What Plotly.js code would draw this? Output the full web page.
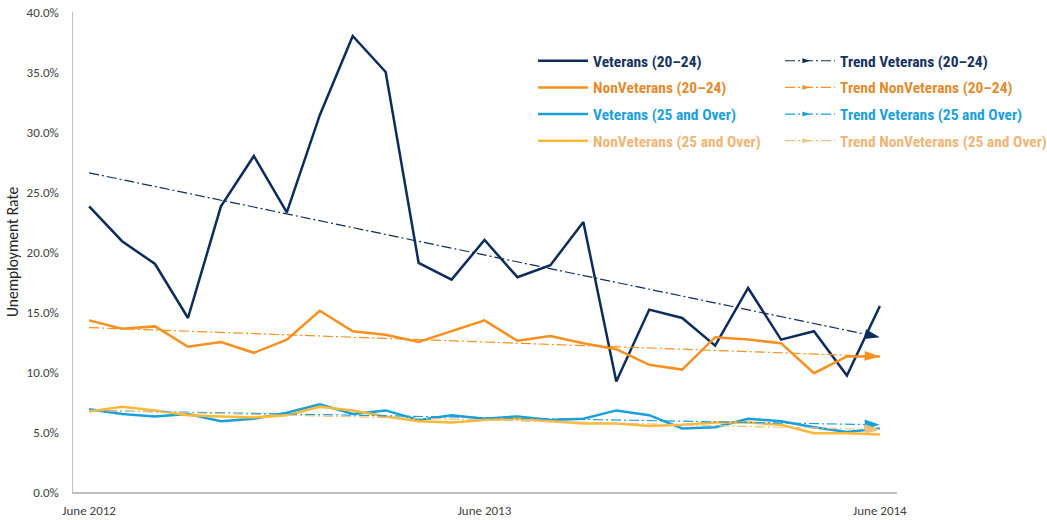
<!DOCTYPE html>
<html>
<head>
<meta charset="utf-8">
<script src="https://cdn.plot.ly/plotly-3.0.1.min.js"></script>
<style>html,body{margin:0;padding:0;background:#fff;}#chart{width:1047px;height:520px;}</style>
</head>
<body>
<div id="chart"></div>
<script>
const months = ["June 2012","July 2012","Aug 2012","Sep 2012","Oct 2012","Nov 2012","Dec 2012",
  "Jan 2013","Feb 2013","Mar 2013","Apr 2013","May 2013","June 2013","July 2013","Aug 2013",
  "Sep 2013","Oct 2013","Nov 2013","Dec 2013","Jan 2014","Feb 2014","Mar 2014","Apr 2014",
  "May 2014","June 2014"];
const xTickLabels = ["June 2012","June 2013","June 2014"];
const yTickVals = [0,5,10,15,20,25,30,35,40];
const yTickLabels = ["0.0%","5.0%","10.0%","15.0%","20.0%","25.0%","30.0%","35.0%","40.0%"];

const vet2024 = [23.8,20.9,19.0,14.5,23.8,28.0,23.3,31.4,38.0,35.0,19.1,17.7,21.0,17.9,18.9,22.5,9.2,15.2,14.5,12.2,17.0,12.7,13.4,9.7,15.5];
const nonVet2024 = [14.3,13.6,13.8,12.1,12.5,11.6,12.7,15.1,13.4,13.1,12.5,13.4,14.3,12.6,13.0,12.4,11.9,10.6,10.2,12.9,12.7,12.4,9.9,11.3,11.3];
const vet25 = [6.9,6.5,6.3,6.5,5.9,6.1,6.6,7.3,6.5,6.8,6.0,6.4,6.1,6.3,6.0,6.1,6.8,6.4,5.3,5.4,6.1,5.9,5.4,5.0,5.3];
const nonVet25 = [6.7,7.1,6.8,6.4,6.3,6.2,6.4,7.1,6.8,6.3,5.9,5.8,6.0,6.1,5.9,5.7,5.7,5.5,5.6,5.8,5.8,5.6,4.9,4.9,4.8];

const trendX = ["June 2012","June 2014"];
const trendVet2024 = [26.6,12.9];
const trendNonVet2024 = [13.7,11.3];
const trendVet25 = [6.8,5.6];
const trendNonVet25 = [6.8,5.2];

const C = {
  navy:'#0C2D5B', navyT:'#16325E',
  orange:'#F7901E', orangeT:'#E38B2F',
  blue:'#1A9FDB', blueT:'#1B9FDD',
  gold:'#FDB934', goldTrend:'#F3BE7C', goldT:'#EFB577'
};

function span(col, txt){ return '<span style="color:'+col+'">'+txt+'</span>'; }

function main(y, col, txtCol, name, rank){
  return {x: months, y: y, type:'scatter', mode:'lines', name: span(txtCol, name),
    line:{color: col, width:2.5}, legend:'legend', legendgroup:'m'+rank, legendrank: rank, hoverinfo:'y'};
}
function trend(y, col, txtCol, name, rank){
  return {x: trendX, y: y, type:'scatter', mode:'lines+markers', name: span(txtCol, name),
    line:{color: col, width:1.2, dash:'10px,3px,2px,3px'},
    marker:{symbol:'arrow', angleref:'previous', size:[0,16], color: col, opacity:1, line:{width:0}},
    legend:'legend2', legendgroup:'t'+rank, legendrank: rank, hoverinfo:'y'};
}

const data = [
  main(vet2024, C.navy, C.navyT, 'Veterans (20–24)', 1),
  main(nonVet2024, C.orange, C.orangeT, 'NonVeterans (20–24)', 2),
  main(vet25, C.blue, C.blueT, 'Veterans (25 and Over)', 3),
  main(nonVet25, C.gold, C.goldT, 'NonVeterans (25 and Over)', 4),
  trend(trendVet2024, C.navy, C.navyT, 'Trend Veterans (20–24)', 1),
  trend(trendNonVet2024, C.orange, C.orangeT, 'Trend NonVeterans (20–24)', 2),
  trend(trendVet25, C.blue, C.blueT, 'Trend Veterans (25 and Over)', 3),
  trend(trendNonVet25, C.goldTrend, C.goldT, 'Trend NonVeterans (25 and Over)', 4)
];

const legendFont = {family:'"Liberation Sans Narrow", "Roboto Condensed", Roboto, sans-serif', size:15.5, weight:'bold'};
const layout = {
  width:1047, height:520,
  margin:{l:73, r:150, t:12, b:28, autoexpand:false},
  paper_bgcolor:'#fff', plot_bgcolor:'#fff',
  font:{family:'Carlito, Lato, sans-serif', size:13, color:'#404040'},
  showlegend:true,
  legend:{x:0.5583, y:0.933, xanchor:'left', yanchor:'top', itemwidth:50,
    traceorder:'grouped', tracegroupgap:3.5, font:legendFont, bgcolor:'rgba(0,0,0,0)'},
  legend2:{x:0.858, y:0.933, xanchor:'left', yanchor:'top', itemwidth:50,
    traceorder:'grouped', tracegroupgap:3.5, font:legendFont, bgcolor:'rgba(0,0,0,0)'},
  xaxis:{type:'category', categoryorder:'array', categoryarray: months,
    range:[-0.49, 24.52], tickvals: xTickLabels, ticktext: xTickLabels,
    showgrid:false, zeroline:false, showline:true, linecolor:'#BFBFBF', linewidth:1.5,
    ticks:'', ticklabelstandoff:6, tickfont:{size:13, color:'#404040'}},
  yaxis:{range:[0,40], tickmode:'array', tickvals: yTickVals, ticktext: yTickLabels,
    showgrid:false, zeroline:false, showline:true, linecolor:'#BFBFBF', linewidth:1.5,
    ticks:'', ticklabelstandoff:10, tickfont:{size:13, color:'#404040'},
    title:{text:'Unemployment Rate', font:{size:15.5, color:'#262626'}, standoff:4}}
};

Plotly.newPlot('chart', data, layout, {displayModeBar:false, staticPlot:true});
</script>
</body>
</html>
